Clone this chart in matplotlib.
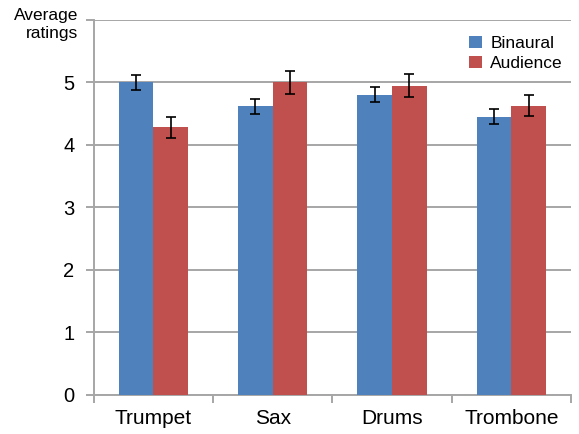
import matplotlib
matplotlib.use("Agg")
import matplotlib.pyplot as plt
import numpy as np

plt.rcParams['font.family'] = ['Liberation Sans', 'DejaVu Sans']

categories = ["Trumpet", "Sax", "Drums", "Trombone"]
binaural = [5.00, 4.62, 4.80, 4.45]
binaural_err = [0.115, 0.12, 0.12, 0.12]
audience = [4.28, 5.00, 4.95, 4.63]
audience_err = [0.17, 0.18, 0.18, 0.17]
yticks = [0, 1, 2, 3, 4, 5, 6]
ytick_labels = ["0", "1", "2", "3", "4", "5", ""]

blue = "#4f81bd"
red = "#c0504d"
grid_c = "#a6a6a6"

fig = plt.figure(figsize=(5.79, 4.34), dpi=100)
ax = fig.add_axes([0.162, 0.09, 0.824, 0.864])

x = np.arange(len(categories))
w = 0.29
ax.bar(x - w / 2, binaural, w, color=blue, label="Binaural", zorder=3,
       yerr=binaural_err, capsize=3.5, error_kw=dict(ecolor="black", elinewidth=1.2, capthick=1.2))
ax.bar(x + w / 2, audience, w, color=red, label="Audience", zorder=3,
       yerr=audience_err, capsize=3.5, error_kw=dict(ecolor="black", elinewidth=1.2, capthick=1.2))

ax.set_xlim(-0.5, len(categories) - 0.5)
ax.set_ylim(0, 6)
ax.set_yticks(yticks)
ax.set_yticklabels(ytick_labels, fontsize=14.5)
ax.yaxis.grid(True, color=grid_c, linewidth=1.4, zorder=0)
ax.set_axisbelow(True)

# boundary ticks, labels centred on categories
ax.set_xticks(np.arange(-0.5, len(categories), 1.0))
ax.set_xticklabels([])
ax.set_xticks(x, minor=True)
ax.set_xticklabels(categories, minor=True, fontsize=15)
ax.tick_params(axis='x', which='major', length=6, width=1.4, color=grid_c, direction='out')
ax.tick_params(axis='x', which='minor', length=0, pad=10)
ax.tick_params(axis='y', length=6, width=1.4, color=grid_c, pad=8)

for s in ["top", "right"]:
    ax.spines[s].set_visible(False)
for s in ["left", "bottom"]:
    ax.spines[s].set_color(grid_c)
    ax.spines[s].set_linewidth(1.4)

fig.text(0.1347, 0.982, "Average\nratings", ha='right', va='top', fontsize=12.5, linespacing=1.3)

ax.legend(loc='upper right', bbox_to_anchor=(1.016, 1.0), frameon=False, fontsize=12.5,
          handlelength=0.7, handleheight=0.7, handletextpad=0.5, labelspacing=0.3)

fig.savefig("out.png", dpi=100)
